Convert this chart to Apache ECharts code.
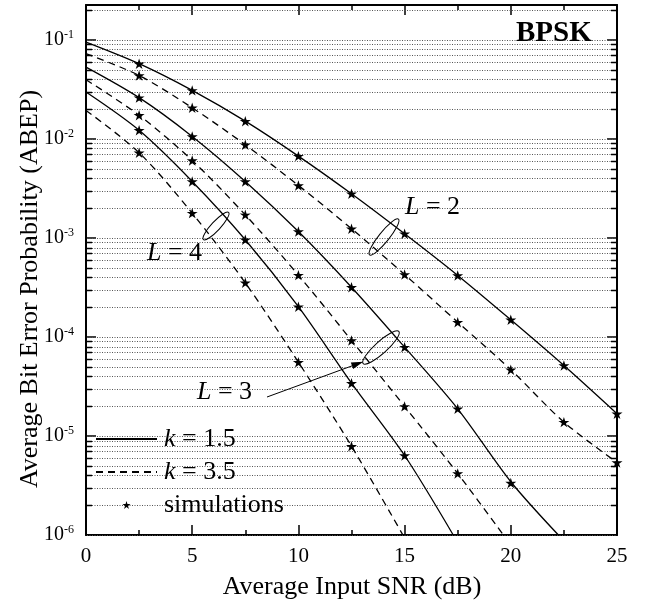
<!DOCTYPE html>
<html><head><meta charset="utf-8">
<script src="https://cdn.jsdelivr.net/npm/echarts@6/dist/echarts.min.js"></script>
<style>html,body{margin:0;padding:0;background:#fff}#c{width:658px;height:602px}</style>
</head><body><div id="c"></div>
<script>
// ---- data ----
const l2k15X   = [0, 2.5, 5, 7.5, 10, 12.5, 15, 17.5, 20, 22.5, 25];
const l2k15    = [0.095, 0.0575, 0.0309, 0.0151, 0.0067, 0.00279, 0.0011, 0.000418, 0.000149, 5.15e-5, 1.68e-5];
const l2k35X   = [0, 2.5, 5, 7.5, 10, 12.5, 15, 17.5, 20, 22.5, 25];
const l2k35    = [0.0726, 0.0437, 0.0206, 0.00873, 0.00339, 0.00124, 0.000427, 0.000141, 4.67e-5, 1.38e-5, 5.4e-6];
const l3k15X   = [0, 2.5, 5, 7.5, 10, 12.5, 15, 17.5, 20, 22.24];
const l3k15    = [0.0531, 0.0261, 0.0106, 0.00372, 0.00116, 0.000318, 7.89e-5, 1.88e-5, 3.45e-6, 1e-6];
const l3k35X   = [0, 2.5, 5, 7.5, 10, 12.5, 15, 17.5, 19.65];
const l3k35    = [0.0396, 0.0173, 0.00606, 0.00171, 0.000421, 9.23e-5, 1.99e-5, 4.18e-6, 1e-6];
const l4k15X   = [0, 2.5, 5, 7.5, 10, 12.5, 15, 17.29];
const l4k15    = [0.0297, 0.0122, 0.00372, 0.000959, 0.000202, 3.41e-5, 6.35e-6, 1e-6];
const l4k35X   = [0, 2.5, 5, 7.5, 10, 12.5, 14.92];
const l4k35    = [0.0194, 0.00726, 0.00178, 0.000352, 5.56e-5, 7.88e-6, 1e-6];

const simX     = [2.5, 5, 7.5, 10, 12.5, 15, 17.5, 20, 22.5, 25];
const simL2k15 = [0.0575, 0.0309, 0.0151, 0.0067, 0.00279, 0.0011, 0.000418, 0.000149, 5.15e-5, 1.68e-5];
const simL2k35 = [0.0437, 0.0206, 0.00873, 0.00339, 0.00124, 0.000427, 0.000141, 4.67e-5, 1.38e-5, 5.4e-6];
const simL3k15 = [0.0261, 0.0106, 0.00372, 0.00116, 0.000318, 7.89e-5, 1.88e-5, 3.35e-6];
const simL3k35 = [0.0173, 0.00606, 0.00171, 0.000421, 9.23e-5, 1.99e-5, 4.18e-6];
const simL4k15 = [0.0122, 0.00372, 0.000959, 0.000202, 3.41e-5, 6.35e-6];
const simL4k35 = [0.00726, 0.00178, 0.000352, 5.56e-5, 7.88e-6];

const xTicks = [0, 5, 10, 15, 20, 25];
const yMin = 1e-6, yMax = 0.225;
const legendNames = ['k = 1.5', 'k = 3.5', 'simulations'];

// ---- helpers ----
const FONT = '"Liberation Serif", "Times New Roman", serif';
const STAR = 'path://M50 0 L61.17 34.63 L97.55 34.55 L68.07 55.87 L79.39 90.45 L50 69 L20.61 90.45 L31.93 55.87 L2.45 34.55 L38.83 34.63 Z';
const zip = (xs, ys) => ys.map((y, i) => [xs[i], y]);

// minor grid values m*10^k
const gridVals = [];
for (let k = -6; k <= -1; k++) for (let m = 1; m <= 9; m++) {
  const v = m * Math.pow(10, k);
  if (v <= yMax) gridVals.push([m, v]);
}

function curve(name, xs, ys, dashed) {
  return {
    type: 'line', name, data: zip(xs, ys), smooth: 0.3, symbol: 'none', z: 3,
    lineStyle: { color: '#000', width: 1.3, type: dashed ? [7, 5] : 'solid' },
    itemStyle: { color: 'rgba(0,0,0,0)', borderWidth: 0, opacity: 0 }, silent: true, animation: false
  };
}
function sims(ys) {
  return {
    type: 'line', name: 'simulations', data: zip(simX, ys), symbol: STAR, symbolSize: 11,
    showSymbol: true, symbolKeepAspect: true, z: 4,
    lineStyle: { color: 'rgba(0,0,0,0)', opacity: 0, width: 0 },
    itemStyle: { color: '#000' }, silent: true, animation: false
  };
}

const chart = echarts.init(document.getElementById('c'), null, { renderer: 'canvas' });
const option = {
  animation: false,
  backgroundColor: '#fff',
  grid: { left: 86, right: 41, top: 5, bottom: 67, containLabel: false, outerBoundsMode: 'none' },
  xAxis: [{
    type: 'value', min: 0, max: 25, interval: 5, position: 'bottom',
    axisLine: { show: true, onZero: false, lineStyle: { color: '#000', width: 2 } },
    axisTick: { show: true, inside: true, length: 10, lineStyle: { color: '#000', width: 1.5 } },
    minorTick: { show: true, splitNumber: 2, length: 5, lineStyle: { color: '#000', width: 1.5 } },
    splitLine: { show: false },
    axisLabel: { show: true, margin: 11, color: '#000', fontFamily: FONT, fontSize: 21,
      formatter: v => xTicks.includes(v) ? String(v) : '' }
  }, {
    type: 'value', min: 0, max: 25, interval: 5, position: 'top',
    axisLine: { show: true, onZero: false, lineStyle: { color: '#000', width: 2 } },
    axisTick: { show: true, inside: true, length: 10, lineStyle: { color: '#000', width: 1.5 } },
    minorTick: { show: true, splitNumber: 2, length: 5, lineStyle: { color: '#000', width: 1.5 } },
    splitLine: { show: false }, axisLabel: { show: false }
  }],
  yAxis: [{
    type: 'log', logBase: 10, min: yMin, max: yMax, position: 'left',
    axisLine: { show: true, onZero: false, lineStyle: { color: '#000', width: 2 } },
    axisTick: { show: true, inside: true, length: 10, lineStyle: { color: '#000', width: 1.5 } },
    splitLine: { show: false },
    axisLabel: {
      show: true, margin: 12, color: '#000',
      formatter: v => {
        const e = Math.log10(v);
        if (Math.abs(e - Math.round(e)) > 1e-6) return '';
        return '{b|10}{s|' + Math.round(e) + '}';
      },
      rich: {
        b: { fontFamily: FONT, fontSize: 20, color: '#000', lineHeight: 22 },
        s: { fontFamily: FONT, fontSize: 12, color: '#000', verticalAlign: 'top', lineHeight: 22 }
      }
    }
  }, {
    type: 'log', logBase: 10, min: yMin, max: yMax, position: 'right',
    axisLine: { show: true, onZero: false, lineStyle: { color: '#000', width: 2 } },
    axisTick: { show: true, inside: true, length: 10, lineStyle: { color: '#000', width: 1.5 } },
    splitLine: { show: false }, axisLabel: { show: false }
  }],
  legend: {
    data: legendNames, orient: 'vertical', left: 95, top: 426, padding: 0,
    itemWidth: 61, itemHeight: 10, itemGap: 7, selectedMode: false,
    textStyle: {
      fontFamily: FONT, fontSize: 26, color: '#000', lineHeight: 26, padding: [0, 0, 0, 2],
      rich: { i: { fontFamily: FONT, fontSize: 26, fontStyle: 'italic', color: '#000', lineHeight: 26 } }
    },
    formatter: n => n.startsWith('k') ? '{i|k}' + n.slice(1) : n
  },
  series: [
    {
      type: 'custom', name: 'grid', silent: true, z: 1, xAxisIndex: 0, yAxisIndex: 0,
      data: gridVals, encode: { x: 0, y: 1 },
      renderItem: (params, api) => {
        const m = api.value(0), v = api.value(1);
        const a = api.coord([0, v]), b = api.coord([25, v]);
        const y = Math.round(a[1]) + 0.5;
        const ch = [{ type: 'line', shape: { x1: a[0] + 1, y1: y, x2: b[0] - 1, y2: y },
          style: { stroke: '#555', lineWidth: 1, lineDash: [1, 1.5] } }];
        if (m !== 1) {
          ch.push({ type: 'line', shape: { x1: a[0], y1: y, x2: a[0] + 6, y2: y }, style: { stroke: '#000', lineWidth: 1.5 } });
          ch.push({ type: 'line', shape: { x1: b[0] - 6, y1: y, x2: b[0], y2: y }, style: { stroke: '#000', lineWidth: 1.5 } });
        }
        return { type: 'group', children: ch };
      }
    },
    curve('k = 1.5', l2k15X, l2k15, false),
    curve('k = 3.5', l2k35X, l2k35, true),
    curve('k = 1.5', l3k15X, l3k15, false),
    curve('k = 3.5', l3k35X, l3k35, true),
    curve('k = 1.5', l4k15X, l4k15, false),
    curve('k = 3.5', l4k35X, l4k35, true),
    sims(simL2k15), sims(simL2k35), sims(simL3k15), sims(simL3k35), sims(simL4k15), sims(simL4k35)
  ],
  graphic: [
    { type: 'text', x: 516, y: 34, z: 10, style: { text: 'BPSK', font: 'bold 29px ' + FONT, fill: '#000', verticalAlign: 'middle', textVerticalAlign: 'middle' } },
    { type: 'text', x: 405, y: 207, z: 10, style: { text: '{i|L} = 2', font: '26px ' + FONT, fill: '#000', verticalAlign: 'middle', textVerticalAlign: 'middle',
      rich: { i: { fontFamily: FONT, fontSize: 26, fontStyle: 'italic' } } } },
    { type: 'text', x: 147, y: 253, z: 10, style: { text: '{i|L} = 4', font: '26px ' + FONT, fill: '#000', verticalAlign: 'middle', textVerticalAlign: 'middle',
      rich: { i: { fontFamily: FONT, fontSize: 26, fontStyle: 'italic' } } } },
    { type: 'text', x: 197, y: 392, z: 10, style: { text: '{i|L} = 3', font: '26px ' + FONT, fill: '#000', verticalAlign: 'middle', textVerticalAlign: 'middle',
      rich: { i: { fontFamily: FONT, fontSize: 26, fontStyle: 'italic' } } } },
    { type: 'ellipse', x: 384, y: 237, rotation: 51 * Math.PI / 180, z: 10, shape: { cx: 0, cy: 0, rx: 23, ry: 5 }, style: { fill: 'none', stroke: '#000', lineWidth: 1 } },
    { type: 'ellipse', x: 216, y: 226, rotation: 47 * Math.PI / 180, z: 10, shape: { cx: 0, cy: 0, rx: 18.5, ry: 4.5 }, style: { fill: 'none', stroke: '#000', lineWidth: 1 } },
    { type: 'ellipse', x: 381, y: 347.5, rotation: 42 * Math.PI / 180, z: 10, shape: { cx: 0, cy: 0, rx: 24, ry: 6 }, style: { fill: 'none', stroke: '#000', lineWidth: 1 } },
    { type: 'line', z: 10, shape: { x1: 267, y1: 397, x2: 353, y2: 365.5 }, style: { stroke: '#000', lineWidth: 1 } },
    { type: 'polygon', z: 10, shape: { points: [[363.3, 361.7], [353.2, 369.1], [350.8, 362.6]] }, style: { fill: '#000' } },
    { type: 'text', x: 30, y: 289, rotation: Math.PI / 2, z: 10, style: { text: 'Average Bit Error Probability (ABEP)', font: '26px ' + FONT, fill: '#000', align: 'center', textAlign: 'center', verticalAlign: 'middle', textVerticalAlign: 'middle' } },
    { type: 'text', x: 352, y: 587, z: 10, style: { text: 'Average Input SNR (dB)', font: '26px ' + FONT, fill: '#000', align: 'center', textAlign: 'center', verticalAlign: 'middle', textVerticalAlign: 'middle' } }
  ]
};
chart.setOption(option);
</script>
</body></html>
